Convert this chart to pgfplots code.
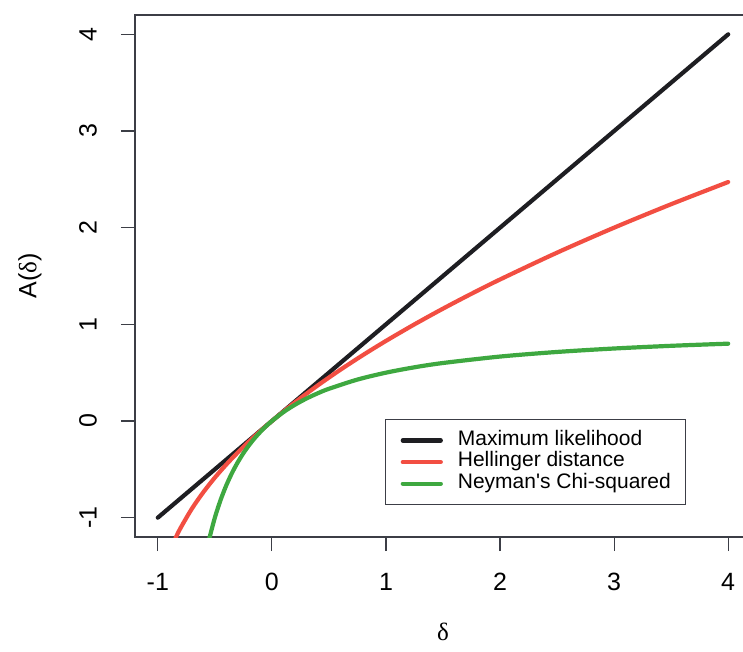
\documentclass[border=0pt]{standalone}
\usepackage{pgfplots}
\pgfplotsset{compat=1.18}
\usepackage{fontspec}
\setmainfont{Liberation Sans}
\newfontfamily\greekserif{Liberation Serif}

\definecolor{mlblack}{RGB}{30,30,34}
\definecolor{hellred}{RGB}{242,78,66}
\definecolor{neygreen}{RGB}{62,168,64}
\definecolor{axisgray}{RGB}{60,62,70}

\begin{document}
\begin{tikzpicture}
\useasboundingbox (-67.5pt,-57.5pt) rectangle (304pt,268.5pt);
\begin{axis}[
  at={(0,0)}, anchor=south west,
  scale only axis, width=308pt, height=261pt,
  xmin=-1.2, xmax=4.2, ymin=-1.2, ymax=4.2,
  axis line style={axisgray, line width=0.6pt},
  xtick={-1,0,1,2,3,4}, ytick={-1,0,1,2,3,4},
  xticklabels={-1,0,1,2,3,4}, yticklabels={-1,0,1,2,3,4},
  xtick pos=bottom, ytick pos=left,
  tick align=outside, major tick length=7pt,
  tick style={axisgray, line width=0.6pt},
  ticklabel style={font=\fontsize{12.5}{14}\selectfont, inner sep=0pt},
  xticklabel style={anchor=center, yshift=-15.5pt},
  yticklabel style={rotate=90, anchor=center, yshift=16.5pt},
  xlabel={\greekserif δ},
  ylabel={A(\greekserif δ\normalfont)},
  label style={font=\fontsize{12.5}{14}\selectfont, inner sep=0pt},
  x label style={at={(axis description cs:0.5,0)}, anchor=center, yshift=-47.5pt},
  y label style={at={(axis description cs:0,0.5)}, anchor=center, yshift=52.5pt},
  legend cell align=left,
  legend style={
    at={(axis description cs:0.406,0.226)}, anchor=north west,
    draw=axisgray, line width=0.6pt,
    inner xsep=7.5pt, inner ysep=5pt,
    font=\fontsize{10.5}{11}\selectfont,
    nodes={inner sep=0pt, text height=7.8pt, text depth=3pt},
    row sep=0pt,
  },
  legend image code/.code={\draw[#1] (0pt,0pt) -- (19pt,0pt);},
  every axis plot/.append style={line width=2.1pt, line cap=round},
]
% maximum likelihood: A(d) = d
\addplot[mlblack] coordinates {(-1,-1) (4,4)};
\addlegendentry{\hspace{7.5pt}Maximum likelihood}
% Hellinger distance
\addplot[hellred, smooth] coordinates {
  (-0.9,-1.3675) (-0.85,-1.2254) (-0.8,-1.1056) (-0.7,-0.9046) (-0.6,-0.7351)
  (-0.5,-0.5858) (-0.4,-0.4508) (-0.3,-0.3267) (-0.2,-0.2111) (-0.1,-0.1026)
  (0,0) (0.2,0.1909) (0.4,0.3664) (0.6,0.5298) (0.8,0.6833) (1.0,0.8284)
  (1.25,1.0) (1.5,1.1623) (1.75,1.3166) (2.0,1.4641) (2.5,1.7417) (3.0,2.0)
  (3.5,2.2426) (4.0,2.4721)
};
\addlegendentry{\hspace{7.5pt}Hellinger distance}
% Neyman's chi-squared
\addplot[neygreen, smooth] coordinates {
  (-0.56,-1.2727) (-0.55,-1.2222) (-0.5,-1.0) (-0.45,-0.8182) (-0.4,-0.6667)
  (-0.35,-0.5385) (-0.3,-0.4286) (-0.25,-0.3333) (-0.2,-0.25) (-0.15,-0.1765)
  (-0.1,-0.1111) (-0.05,-0.0526) (0,0) (0.1,0.0909) (0.2,0.1667) (0.3,0.2308)
  (0.4,0.2857) (0.5,0.3333) (0.75,0.4286) (1.0,0.5) (1.25,0.5556) (1.5,0.6)
  (2.0,0.6667) (2.5,0.7143) (3.0,0.75) (3.5,0.7778) (4.0,0.8)
};
\addlegendentry{\hspace{7.5pt}Neyman\textquotesingle s Chi-squared\hspace{3pt}}
\end{axis}
\end{tikzpicture}
\end{document}
